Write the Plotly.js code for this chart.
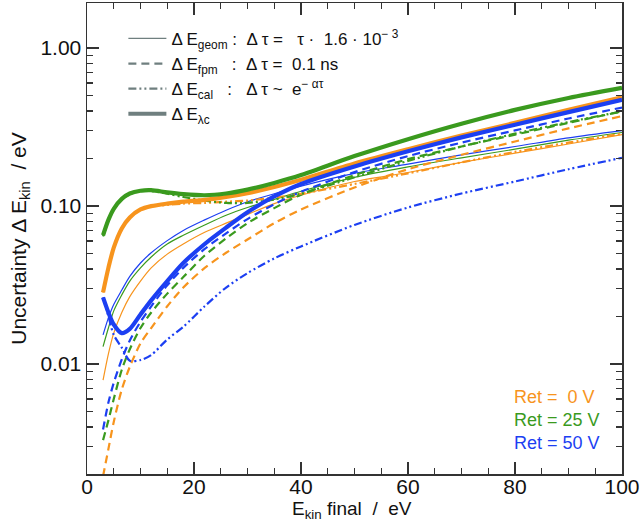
<!DOCTYPE html>
<html>
<head>
<meta charset="utf-8">
<script src="https://cdn.plot.ly/plotly-3.0.1.min.js"></script>
<style>html,body{margin:0;padding:0;background:#fff;}#chart{width:640px;height:523px;}</style>
</head>
<body>
<div id="chart"></div>
<script>
// Final kinetic energy (eV)
const ekin = [3, 4, 5, 6.5, 8, 10, 12, 15, 18, 22, 26, 30, 35, 40, 50, 60, 70, 80, 90, 100];

// Ret = 0 V
const ret0Geom = [0.0079, 0.0116, 0.0157, 0.0212, 0.0267, 0.0335, 0.0406, 0.0496, 0.0575, 0.0682, 0.0779, 0.0884, 0.1036, 0.117, 0.143, 0.163, 0.189, 0.216, 0.247, 0.283];
const ret0Fpm  = [0.00195, 0.0029, 0.0043, 0.0069, 0.0096, 0.0135, 0.0169, 0.0232, 0.0305, 0.0406, 0.0506, 0.0614, 0.0779, 0.0951, 0.131, 0.171, 0.211, 0.256, 0.310, 0.371];
const ret0Cal  = [0.0284, 0.0406, 0.0545, 0.0721, 0.0846, 0.0951, 0.0989, 0.1017, 0.1036, 0.1046, 0.1065, 0.1083, 0.113, 0.1196, 0.138, 0.161, 0.189, 0.220, 0.252, 0.287];
const ret0Lc   = [0.0284, 0.0406, 0.0545, 0.0721, 0.0846, 0.0951, 0.0998, 0.1036, 0.1065, 0.1093, 0.114, 0.1206, 0.1318, 0.1466, 0.186, 0.229, 0.279, 0.336, 0.406, 0.488];

// Ret = 25 V
const ret25Geom = [0.0129, 0.0169, 0.0217, 0.0274, 0.0335, 0.0406, 0.0476, 0.0575, 0.0653, 0.0759, 0.0875, 0.0979, 0.110, 0.124, 0.152, 0.177, 0.202, 0.229, 0.261, 0.292];
const ret25Fpm  = [0.0033, 0.0044, 0.0060, 0.0092, 0.0124, 0.0169, 0.0212, 0.0279, 0.0355, 0.0486, 0.0624, 0.0779, 0.097, 0.118, 0.157, 0.198, 0.238, 0.283, 0.336, 0.397];
const ret25Cal  = [0.0643, 0.0808, 0.0951, 0.110, 0.1187, 0.1243, 0.1243, 0.1196, 0.114, 0.1083, 0.1046, 0.1046, 0.110, 0.1196, 0.152, 0.193, 0.238, 0.287, 0.340, 0.397];
const ret25Lc   = [0.0653, 0.0817, 0.096, 0.111, 0.120, 0.125, 0.126, 0.122, 0.119, 0.117, 0.120, 0.127, 0.140, 0.157, 0.207, 0.265, 0.332, 0.406, 0.483, 0.560];

// Ret = 50 V
const ret50Geom = [0.0153, 0.0196, 0.0238, 0.0294, 0.0359, 0.0436, 0.0506, 0.0604, 0.0701, 0.0817, 0.0941, 0.1065, 0.1196, 0.1336, 0.161, 0.184, 0.211, 0.238, 0.270, 0.300];
const ret50Fpm  = [0.00385, 0.0057, 0.0076, 0.0107, 0.0141, 0.0185, 0.0232, 0.0315, 0.0406, 0.0535, 0.0672, 0.0827, 0.1027, 0.123, 0.164, 0.207, 0.252, 0.301, 0.358, 0.420];
const ret50Cal  = [0.0264, 0.0201, 0.0153, 0.0127, 0.0105, 0.0106, 0.0114, 0.0143, 0.0172, 0.0232, 0.0305, 0.0376, 0.0466, 0.0555, 0.0759, 0.0979, 0.120, 0.143, 0.171, 0.202];
const ret50Lc   = [0.0264, 0.0212, 0.0178, 0.0157, 0.0167, 0.0206, 0.0253, 0.0335, 0.0436, 0.0575, 0.073, 0.0913, 0.115, 0.138, 0.178, 0.222, 0.272, 0.327, 0.393, 0.470];

const retLabels = ['Ret =  0 V', 'Ret = 25 V', 'Ret = 50 V'];
const legendLabels = [
  'Δ E<sub>geom</sub> :  Δ τ =   τ ·  1.6 · 10<sup>− 3</sup>',
  'Δ E<sub>fpm</sub>   :  Δ τ =  0.1 ns',
  'Δ E<sub>cal</sub>   :   Δ τ ~  e<sup>− ατ</sup>',
  'Δ E<sub>λc</sub>'
];
const yTickVals = [0.01, 0.1, 1];
const yTickText = ['0.01', '0.10', '1.00'];
const xTickVals = [0, 20, 40, 60, 80, 100];
const xTitle = 'E<sub>kin</sub> final  /  eV';
const yTitle = 'Uncertainty Δ E<sub>kin</sub>  / eV';

const colors = ['#f7941d', '#3a9a1e', '#1c3ff2'];
const grey = '#6f7f7f';
const styles = {
  geom: {width: 1.2, dash: 'solid'},
  fpm:  {width: 2.2, dash: '8px,5px'},
  cal:  {width: 2.2, dash: '8px,3px,2px,3px,2px,3px'},
  lc:   {width: 4.2, dash: 'solid'}
};

const sets = [
  {geom: ret0Geom, fpm: ret0Fpm, cal: ret0Cal, lc: ret0Lc},
  {geom: ret25Geom, fpm: ret25Fpm, cal: ret25Cal, lc: ret25Lc},
  {geom: ret50Geom, fpm: ret50Fpm, cal: ret50Cal, lc: ret50Lc}
];

const traces = [];
['geom', 'fpm', 'cal', 'lc'].forEach(kind => {
  sets.forEach((s, i) => {
    traces.push({
      x: ekin, y: s[kind], type: 'scatter', mode: 'lines',
      line: {color: colors[i], width: styles[kind].width, dash: styles[kind].dash, shape: 'spline', smoothing: 0.8},
      showlegend: false, hoverinfo: 'skip'
    });
  });
});
['geom', 'fpm', 'cal', 'lc'].forEach((kind, k) => {
  traces.push({
    x: [null], y: [null], type: 'scatter', mode: 'lines', name: legendLabels[k],
    line: {color: grey, width: styles[kind].width, dash: styles[kind].dash},
    showlegend: true
  });
});

const yMinor = [];
[0.001, 0.01, 0.1].forEach(d => { for (let m = 2; m <= 9; m++) yMinor.push(+(m * d).toPrecision(3)); });

const font = 'Liberation Sans, Arial, Helvetica, sans-serif';
const axisCol = '#333333';
const layout = {
  width: 640, height: 523,
  margin: {l: 87, r: 18, t: 3, b: 49},
  paper_bgcolor: '#ffffff', plot_bgcolor: '#ffffff',
  font: {family: font, color: '#111111'},
  showlegend: true,
  legend: {x: 0.068, y: 0.962, xanchor: 'left', yanchor: 'top', bgcolor: 'rgba(0,0,0,0)',
           font: {size: 17, family: font, color: '#111'}, tracegroupgap: 0, itemwidth: 38},
  xaxis: {
    range: [0, 100], showgrid: false, zeroline: false, showline: true, linecolor: axisCol, linewidth: 1.5,
    mirror: 'ticks', ticks: 'inside', ticklen: 12, tickwidth: 1.5, tickcolor: axisCol,
    tickvals: xTickVals, tickfont: {size: 21, family: font, color: '#111'}, ticklabelstandoff: -7,
    minor: {dtick: 5, ticks: 'inside', ticklen: 6, tickwidth: 1.2, tickcolor: axisCol, showgrid: false}
  },
  yaxis: {
    type: 'log', range: [-2.696, 0.285], showgrid: false, zeroline: false, showline: true, linecolor: axisCol, linewidth: 1.5,
    mirror: 'ticks', ticks: 'inside', ticklen: 12, tickwidth: 1.5, tickcolor: axisCol,
    tickvals: yTickVals, ticktext: yTickText, tickfont: {size: 21, family: font, color: '#111'},
    minor: {tickvals: yMinor, ticks: 'inside', ticklen: 6, tickwidth: 1.2, tickcolor: axisCol, showgrid: false},
    title: {text: yTitle, font: {size: 21, family: font, color: '#111'}, standoff: 8}
  },
  annotations: retLabels.map((t, i) => ({
    text: t, xref: 'paper', yref: 'paper', x: 0.794, y: [0.1635, 0.1146, 0.0658][i],
    xanchor: 'left', yanchor: 'middle', showarrow: false,
    font: {size: 18, family: font, color: colors[i]}
  })).concat([{
    text: xTitle, xref: 'paper', yref: 'paper', x: 0.495, y: -0.076,
    xanchor: 'center', yanchor: 'middle', showarrow: false,
    font: {size: 19, family: font, color: '#111'}
  }])
};

Plotly.newPlot('chart', traces, layout, {staticPlot: true, displayModeBar: false});
</script>
</body>
</html>
